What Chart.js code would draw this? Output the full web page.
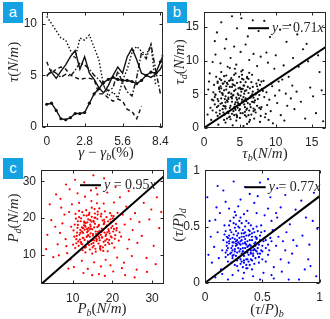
<!DOCTYPE html>
<html><head><meta charset="utf-8">
<script src="https://cdn.jsdelivr.net/npm/chart.js@4.4.0/dist/chart.umd.min.js"></script>
<style>
html,body{margin:0;padding:0;background:#fff;}
body{width:330px;height:319px;position:relative;overflow:hidden;}
.pane{position:absolute;}
.tag{position:absolute;width:20px;height:21px;background:#14a2e3;color:#fff;font:15px "Liberation Sans",Arial,sans-serif;text-align:center;line-height:20px;}
.ttl{position:absolute;font:italic 15px "Liberation Serif",serif;color:#262626;white-space:nowrap;transform:translate(-50%,-50%);line-height:1;}
.ttl.v{transform:translate(-50%,-50%) rotate(-90deg);}
.ttl sub{font-size:10px;vertical-align:-3px;line-height:0;}
.up{font-style:normal;}
</style></head>
<body>
<div class="pane" style="left:0;top:0"><canvas id="ca" width="176" height="160"></canvas></div>
<div class="pane" style="left:165px;top:0"><canvas id="cb" width="165" height="160"></canvas></div>
<div class="pane" style="left:0;top:158px"><canvas id="cc" width="168" height="161"></canvas></div>
<div class="pane" style="left:165px;top:158px"><canvas id="cd" width="165" height="161"></canvas></div>

<div class="tag" style="left:3px;top:2px">a</div>
<div class="tag" style="left:167px;top:2px">b</div>
<div class="tag" style="left:3px;top:158px">c</div>
<div class="tag" style="left:167px;top:158px">d</div>

<div class="ttl v" style="left:13px;top:62px">τ<span class="up">(</span>N<span class="up">/</span>m<span class="up">)</span></div>
<div class="ttl" style="left:106px;top:152px">γ <span class="up">−</span> γ<sub>b</sub><span class="up">(%)</span></div>
<div class="ttl v" style="left:179px;top:62px">τ<sub>d</sub><span class="up">(</span>N<span class="up">/</span>m<span class="up">)</span></div>
<div class="ttl" style="left:265px;top:153px">τ<sub>b</sub><span class="up">(</span>N<span class="up">/</span>m<span class="up">)</span></div>
<div class="ttl v" style="left:13px;top:218px">P<sub>d</sub><span class="up">(</span>N<span class="up">/</span>m<span class="up">)</span></div>
<div class="ttl" style="left:102px;top:308px">P<sub>b</sub><span class="up">(</span>N<span class="up">/</span>m<span class="up">)</span></div>
<div class="ttl v" style="left:178px;top:225px"><span class="up">(</span>τ<span class="up">/</span>P<span class="up">)</span><sub>d</sub></div>
<div class="ttl" style="left:267px;top:309px"><span class="up">(</span>τ<span class="up">/</span>P<span class="up">)</span><sub>b</sub></div>

<script>
// ---------- panel a : shear stress vs strain (five runs) ----------
const strain = [0,0.35,0.7,1.05,1.4,1.75,2.1,2.45,2.8,3.15,3.5,3.85,4.2,4.55,4.9,5.25,5.6,5.95,6.3,6.65,7.0,7.35,7.7,8.05,8.4,8.6];
const tauRunMarked = [2.2,2.3,1.6,0.8,0.7,0.9,1.3,1.3,1.4,2.3,3.2,3.7,4.3,4.6,4.8,4.6,4.5,4.5,4.4,4.2,4.5,5.0,5.3,5.2,6.3,6.9];
const tauRunDotted = [10.7,10.0,9.3,8.6,8.4,7.4,6.6,8.6,8.4,8.9,7.7,6.5,4.0,3.0,3.4,2.8,4.5,5.6,7.2,7.8,7.3,7.0,7.9,4.0,null,null];
const tauRunDashed = [6.3,5.2,5.6,5.8,5.6,5.0,4.8,4.6,4.7,4.7,4.6,3.2,3.2,2.8,2.5,2.7,2.5,1.7,1.5,0.8,2.0,null,null,null,null,null];
const tauRunSolid = [5.0,5.3,4.7,5.4,6.0,6.8,7.4,5.6,6.8,5.2,4.6,3.8,3.3,4.0,5.0,5.8,5.2,6.8,7.6,6.5,5.2,5.0,4.8,5.1,5.6,6.2];
const tauRunDashDot = [4.9,5.5,5.2,4.8,5.1,4.9,5.5,6.2,6.0,5.6,5.0,4.6,4.0,3.5,3.8,5.4,4.3,3.4,3.0,4.8,7.2,6.6,8.0,5.5,3.2,null];
const strainTicks = [0,2.8,5.6,8.4];
const tauTicks = [0,5,10];

// ---------- panel b : tau_d vs tau_b ----------
const tauB = [3.2,5.6,4.4,6.8,2.1,7.3,4.9,3.7,5.1,6.2,1.8,8.4,2.9,4.2,6.6,5.4,3.5,7.9,2.4,4.7,5.9,3.1,6.1,1.4,7.6,4.5,2.7,8.8,3.9,5.2,6.9,2.2,4.1,7.1,3.4,5.7,1.9,6.4,4.6,3.0,8.1,2.5,5.0,6.7,3.6,7.4,4.3,1.6,5.5,2.8,6.0,3.8,7.8,4.8,2.3,5.3,6.5,1.2,3.3,8.6,4.0,5.8,2.6,7.0,3.9,6.3,1.7,4.9,5.6,7.7,2.0,3.6,6.1,4.4,8.3,2.9,5.1,1.3,7.2,3.4,4.6,6.8,2.4,5.9,3.1,9.1,4.2,6.4,1.9,5.3,7.5,2.7,4.7,3.8,6.9,1.1,5.0,8.0,2.2,4.3,5.7,3.2,6.6,7.3,2.6,4.5,3.0,5.4,6.2,1.5,
9.5,10.2,11.4,9.8,10.7,8.9,12.1,9.3,11.8,10.5,12.6,9.0,11.1,10.0,12.3,8.7,11.6,9.6,12.9,10.9,2.3,3.7,5.1,1.6,4.5,6.3,2.9,7.4,5.8,3.3,1.2,4.2,6.9,0.8,7.9,0.6,0.9,1.0,0.7,0.5,2.0,4.0,6.0,7.8,3.0,5.5,8.5,9.9,10.4,11.2,
13.5,14.8,15.6,13.2,14.1,16.1,13.8,15.2,16.4,14.5,2.4,4.6,6.1,3.1,7.6,1.5,9.2,11.5,5.2,8.4,10.6,12.4,13.0,3.9,15.9,1.8,6.8,16.6,14.3,12.0,
3.5,4.8,2.6,5.9,4.1,6.7,3.0,5.3,2.2,7.0,4.4,3.7,5.6,1.9,6.3,4.9,2.8,5.0,3.3,7.5,4.6,2.4,6.0,3.9,5.2,1.5,4.3,6.5,3.1,5.7,
2.0,4.0,6.8,3.4,5.5,2.7,4.7,7.2,3.6,5.1,1.7,4.2,6.1,2.9,5.8,3.8,6.9,2.3,4.5,5.4,8.2,3.2,6.4,1.3,4.9,7.7,2.5,5.9,3.5,4.1,
6.6,2.1,5.0,3.9,7.4,4.6,2.8,5.6,3.0,6.2,1.6,4.4,8.7,3.7,5.3,2.6,6.7,4.0,5.7,3.3,7.1,2.2,4.8,6.0,3.6,5.1,1.9,4.3,6.5,2.9,
8.0,3.4,5.5,7.9,4.2,9.4,6.3,2.4,5.2,3.8];
const tauD = [4.1,6.3,2.7,3.9,5.8,5.2,7.6,3.3,4.8,1.9,3.1,4.6,6.9,5.5,6.8,2.2,1.6,2.8,4.4,3.8,5.6,7.8,4.3,6.4,7.1,1.1,2.3,3.4,6.1,8.4,2.5,7.3,4.9,4.1,5.2,3.1,1.8,5.9,6.7,2.9,5.8,3.7,1.5,7.9,8.9,3.3,3.5,4.9,7.2,1.2,2.9,4.6,6.4,5.9,6.2,3.9,4.7,2.6,6.5,2.1,7.1,4.4,5.1,1.4,2.1,8.2,7.6,2.6,5.1,4.9,4.0,3.0,6.1,8.1,7.0,2.0,6.8,5.3,2.3,4.3,4.2,5.4,8.3,1.7,5.7,4.2,1.9,3.5,6.7,7.9,5.7,3.3,5.1,7.4,4.5,4.2,3.4,3.1,2.6,6.3,2.4,1.4,2.0,6.6,6.6,4.5,3.8,5.8,7.3,3.5,
6.2,3.7,5.1,8.8,1.9,9.7,4.4,2.5,7.6,5.6,2.8,1.2,9.3,10.8,6.3,11.2,3.3,0.7,5.4,7.2,9.6,10.4,11.3,10.9,9.4,10.1,11.8,9.2,12.4,9.1,9.8,12.1,11.0,8.1,10.6,5.7,3.0,1.2,6.9,2.0,0.5,0.4,0.6,0.9,0.8,0.3,1.6,4.8,6.9,1.1,
3.9,6.0,2.2,9.1,1.4,8.3,11.7,4.7,5.6,9.9,15.7,14.8,13.6,13.2,14.4,12.9,13.5,12.8,16.3,15.9,14.6,10.4,13.9,16.6,10.8,14.2,16.0,1.0,12.5,15.3,
5.3,3.6,4.9,2.7,6.4,5.0,3.2,7.3,2.1,3.8,5.7,1.3,4.1,6.9,2.6,4.4,7.7,6.0,2.4,4.3,1.8,5.9,7.4,3.9,5.4,4.6,2.9,3.1,6.2,5.5,
3.3,4.8,6.1,2.2,4.6,6.6,3.0,5.0,1.7,5.8,2.3,7.9,3.7,4.3,6.8,5.1,2.9,3.6,2.0,8.6,5.5,6.7,1.2,4.1,3.4,3.0,5.2,4.0,7.0,2.5,
4.7,6.0,2.8,4.4,6.2,1.6,5.6,3.5,4.7,5.2,5.0,3.8,5.3,7.1,4.2,2.8,3.9,6.5,1.9,3.9,2.7,5.4,4.9,7.6,6.1,2.2,4.3,8.8,4.5,3.2,
6.9,4.5,6.3,1.8,3.1,6.6,0.9,7.1,5.8,4.6];
const tauTicksB = [0,5,10,15];

// ---------- panel c : P_d vs P_b ----------
const pB = [14.2,17.5,12.1,19.8,15.6,11.3,16.9,13.7,18.4,10.6,20.3,14.9,12.8,17.1,15.3,11.9,19.2,13.4,16.4,21.1,12.5,18.1,14.6,10.2,17.8,15.9,13.1,19.6,11.6,16.2,20.7,14.1,12.3,17.3,15.1,18.8,13.9,10.9,16.7,21.6,14.4,12.7,19.1,15.7,11.2,17.9,13.3,16.1,20.1,14.8,12.0,18.6,15.4,10.4,17.0,13.6,19.4,11.5,16.6,14.3,21.8,12.9,18.2,15.2,10.8,17.6,13.2,16.3,19.9,14.0,11.8,18.9,15.8,12.4,20.5,13.8,17.2,10.1,16.0,14.7,19.3,12.2,15.5,18.0,11.1,16.8,13.5,20.9,14.5,17.4,9.6,21.3,15.0,12.6,18.5,13.0,16.5,19.7,10.7,22.2,
8.2,7.4,9.1,8.6,23.1,24.2,22.6,23.8,9.4,12.3,15.4,18.3,21.2,11.6,14.7,17.8,20.4,13.1,16.2,9.8,7.9,6.8,25.1,24.6,22.9,10.3,13.8,17.1,19.5,8.4,6.2,5.6,26.3,25.7,23.5,11.2,15.9,18.7,21.9,7.1,24.9,26.8,8.9,12.7,16.6,20.2,14.6,22.4,6.5,27.4,
3.6,4.2,5.1,4.6,3.3,6.9,8.3,10.6,12.9,15.2,17.9,20.8,24.1,27.9,29.3,31.8,30.4,28.6,26.1,28.7,31.2,29.8,25.6,18.1,23.2,14.9,5.8,9.2,32.3,30.9,
15.0,13.2,17.8,11.7,16.5,19.0,14.4,12.4,18.3,15.7,13.8,16.9,10.9,20.0,14.9,12.1,17.4,15.3,19.5,13.5,16.2,11.4,18.7,14.2,15.9,12.8,17.1,20.6,13.1,16.6,
14.6,18.0,11.9,15.4,17.6,12.6,19.2,14.0,16.8,13.3,20.4,15.1,11.6,17.9,14.7,18.9,12.3,16.3,13.9,15.6,10.5,19.8,14.3,17.3,12.9,16.0,18.4,11.0,15.8,13.6,
21.0,14.8,16.7,12.0,18.6,15.2,13.0,17.0,19.6,14.1,11.3,16.4,13.7,18.2,15.5,12.5,20.2,14.5,17.7,16.1];
const pD = [16.8,19.3,13.4,14.7,21.2,18.1,12.2,15.1,17.6,11.8,20.5,10.3,20.7,15.4,18.9,15.9,12.9,22.1,16.2,17.2,11.2,21.8,13.8,16.6,13.5,14.4,17.9,18.8,20.2,19.7,15.3,12.6,16.3,17.1,15.6,10.9,19.6,13.1,22.6,13.8,18.2,14.5,16.4,11.6,17.3,18.5,12.1,14.1,19.9,20.3,19.1,14.2,17.4,14.9,11.3,16.1,21.3,12.4,18.1,14.9,16.1,18.7,12.6,13.2,19.8,16.7,10.6,20.9,13.1,17.3,14.1,19.1,16.3,21.6,11.9,13.6,21.1,12.7,15.0,19.0,15.8,12.9,22.4,16.0,16.0,13.9,20.6,18.4,15.8,14.8,17.6,21.4,12.0,17.2,20.2,14.0,17.8,17.3,21.1,14.9,
14.2,18.5,21.6,10.4,18.2,14.1,20.9,11.6,8.7,8.3,7.9,8.6,9.2,24.1,24.6,23.9,24.2,25.8,26.4,23.7,20.9,15.9,16.7,19.7,7.8,6.6,6.1,6.8,7.1,12.3,12.8,17.6,13.2,21.3,23.1,26.7,28.1,26.9,25.6,22.8,9.6,18.9,6.2,5.0,4.7,5.4,27.5,6.3,9.8,15.1,
15.4,23.7,9.3,19.4,11.5,25.2,29.1,30.4,29.7,31.6,30.8,28.4,27.3,24.1,19.6,17.2,12.4,9.1,5.9,5.3,25.6,22.3,3.8,4.2,4.4,4.4,26.4,27.8,21.6,7.4,
14.0,17.6,18.3,15.4,13.0,16.9,19.4,12.8,15.1,20.1,16.4,11.7,14.2,17.8,16.9,19.9,14.6,12.4,19.6,14.8,17.5,13.6,16.1,21.4,15.6,18.0,20.4,14.3,11.9,15.0,
17.1,18.9,16.7,13.9,12.0,15.9,14.0,20.8,16.5,18.6,17.0,15.2,21.9,19.5,12.9,13.3,17.4,21.7,15.3,18.4,18.2,20.6,11.4,16.2,19.0,13.7,15.5,15.1,10.8,17.0,
16.6,22.8,14.5,13.3,17.9,19.2,16.8,12.3,15.0,21.0,19.1,15.7,18.8,13.8,20.0,14.6,16.3,17.7,11.0,24.0];
const pTicks = [10,20,30];

// ---------- panel d : (tau/P)_d vs (tau/P)_b ----------
const ratioB = [0.32,0.45,0.21,0.38,0.27,0.51,0.34,0.18,0.42,0.29,0.36,0.24,0.48,0.31,0.55,0.19,0.40,0.26,0.35,0.47,0.22,0.39,0.28,0.53,0.33,0.16,0.44,0.30,0.41,0.25,0.37,0.49,0.20,0.34,0.57,0.28,0.43,0.23,0.38,0.31,0.46,0.17,0.35,0.52,0.27,0.40,0.21,0.33,0.44,0.29,0.37,0.25,0.50,0.19,0.42,0.32,0.36,0.24,0.47,0.30,0.39,0.55,0.22,0.34,0.45,0.27,0.41,0.18,0.31,0.50,0.26,0.38,0.43,0.23,0.35,0.48,0.29,0.33,0.20,0.40,0.46,0.28,0.36,0.53,0.24,0.32,0.42,0.17,0.39,0.30,0.25,0.44,0.34,0.21,0.49,0.37,0.28,0.41,0.35,0.27,
0.08,0.11,0.12,0.09,0.14,0.62,0.66,0.59,0.64,0.60,0.70,0.68,0.58,0.73,0.13,0.21,0.29,0.37,0.45,0.52,0.24,0.33,0.42,0.51,0.58,0.15,0.06,0.05,0.10,0.18,0.31,0.43,0.39,0.26,0.55,0.63,0.71,0.76,0.67,0.77,0.62,0.48,0.20,0.03,0.09,0.57,0.46,0.80,0.74,0.66,
0.02,0.16,0.35,0.48,0.63,0.79,0.85,0.90,0.94,0.87,0.97,0.82,0.91,0.84,0.70,0.25,0.11,0.55,0.95,0.73,0.98,0.88,0.04,0.60,0.92,
0.31,0.26,0.40,0.22,0.36,0.45,0.29,0.34,0.19,0.43,0.38,0.25,0.32,0.48,0.27,0.35,0.41,0.20,0.30,0.46,0.24,0.37,0.33,0.52,0.28,0.39,0.23,0.44,0.31,0.36,
0.18,0.42,0.26,0.34,0.50,0.29,0.38,0.21,0.33,0.47,0.27,0.40,0.35,0.24,0.43,0.30,0.56,0.19,0.37,0.32,0.45,0.25,0.39,0.28,0.34,0.49,0.22,0.41,0.36,0.30,
0.15,0.27,0.44,0.33,0.38,0.23,0.47,0.31,0.35,0.40,0.26,0.58,0.20,0.42,0.29,0.37,0.53,0.32,0.24,0.39];
const ratioD = [0.41,0.28,0.35,0.19,0.52,0.37,0.24,0.46,0.48,0.31,0.13,0.22,0.42,0.58,0.25,0.29,0.33,0.16,0.45,0.18,0.55,0.38,0.27,0.31,0.35,0.38,0.22,0.49,0.12,0.43,0.29,0.51,0.19,0.61,0.40,0.38,0.35,0.27,0.53,0.17,0.26,0.51,0.31,0.46,0.33,0.21,0.42,0.47,0.41,0.11,0.37,0.58,0.21,0.33,0.29,0.26,0.55,0.36,0.34,0.40,0.16,0.34,0.47,0.20,0.50,0.24,0.44,0.23,0.34,0.28,0.49,0.25,0.17,0.31,0.39,0.38,0.44,0.14,0.40,0.51,0.31,0.20,0.42,0.19,0.29,0.53,0.24,0.43,0.46,0.28,0.36,0.36,0.09,0.51,0.45,0.21,0.42,0.38,0.27,0.60,
0.32,0.45,0.22,0.56,0.12,0.33,0.21,0.47,0.41,0.14,0.29,0.37,0.55,0.18,0.62,0.66,0.68,0.64,0.62,0.60,0.07,0.04,0.06,0.09,0.07,0.08,0.18,0.41,0.67,0.72,0.74,0.71,0.79,0.63,0.66,0.58,0.45,0.26,0.10,0.38,0.62,0.03,0.03,0.25,0.05,0.76,0.77,0.33,0.52,0.67,
0.76,0.82,0.85,0.89,0.84,0.65,0.42,0.21,0.55,0.12,0.06,0.03,0.34,0.73,0.78,0.90,0.86,0.92,0.80,0.03,0.48,0.58,0.55,0.04,0.15,
0.30,0.39,0.27,0.26,0.21,0.39,0.36,0.44,0.41,0.30,0.33,0.25,0.19,0.26,0.46,0.36,0.41,0.31,0.23,0.46,0.40,0.32,0.28,0.40,0.34,0.43,0.18,0.33,0.37,0.16,
0.27,0.26,0.30,0.41,0.33,0.22,0.47,0.37,0.31,0.23,0.37,0.29,0.50,0.24,0.45,0.35,0.29,0.36,0.27,0.44,0.40,0.53,0.34,0.15,0.18,0.29,0.39,0.20,0.34,0.55,
0.29,0.35,0.29,0.28,0.42,0.45,0.23,0.21,0.35,0.26,0.28,0.37,0.25,0.32,0.50,0.13,0.38,0.38,0.33,0.30];
const ratioTicks = [0,0.5,1];

// fitted slopes y = k x shown in panels b, c, d
const fitSlopes = [0.71, 0.95, 0.77];

// -------------------------------------------------------------
const INK = '#262626';
const TICK_FONT = {family:'"Liberation Sans", Arial, sans-serif', size:12};

const framePlugin = {
  id:'frame',
  afterDraw(chart){
    const {ctx, chartArea:a} = chart;
    const xs = chart.scales.x, ys = chart.scales.y;
    const L=Math.round(a.left)+0.5, R=Math.round(a.right)-0.5, T=Math.round(a.top)+0.5, B=Math.round(a.bottom)-0.5;
    ctx.save();
    ctx.strokeStyle = INK; ctx.lineWidth = 1;
    ctx.beginPath();
    xs.ticks.forEach(t=>{
      const p = Math.round(xs.getPixelForValue(t.value))+0.5;
      ctx.moveTo(p,B); ctx.lineTo(p,B-3);
      ctx.moveTo(p,T); ctx.lineTo(p,T+3);
    });
    ys.ticks.forEach(t=>{
      const p = Math.round(ys.getPixelForValue(t.value))+0.5;
      ctx.moveTo(L,p); ctx.lineTo(L+3,p);
      ctx.moveTo(R,p); ctx.lineTo(R-3,p);
    });
    ctx.stroke();
    ctx.strokeRect(L,T,R-L,B-T);
    const lg = chart.options.plugins.frame && chart.options.plugins.frame.legend;
    if(lg){
      const y0 = a.top + lg.dy;
      const x0 = a.right - lg.dx;
      ctx.lineWidth = 2; ctx.strokeStyle = '#000';
      ctx.beginPath(); ctx.moveTo(x0,y0); ctx.lineTo(x0+21,y0); ctx.stroke();
      ctx.fillStyle = INK; ctx.textBaseline='middle';
      let x = x0+24;
      const parts = [['italic','y'],['normal',' = '+lg.k.toFixed(2)],['italic','x']];
      parts.forEach(([st,txt])=>{
        ctx.font = st+' 14px "Liberation Serif", serif';
        ctx.fillText(txt,x,y0);
        x += ctx.measureText(txt).width;
      });
    }
    ctx.restore();
  }
};

function axis(min,max,ticks,size,isX,pad){
  const o = {
    type:'linear', min, max,
    grid:{display:false, drawTicks:false},
    border:{display:false},
    ticks:{font:TICK_FONT, color:INK, padding:pad, autoSkip:false, maxRotation:0, callback:v=>String(v)},
    afterBuildTicks:s=>{ s.ticks = ticks.map(v=>({value:v})); }
  };
  if(isX) o.afterFit = s=>{ s.height = size; };
  else o.afterFit = s=>{ s.width = size; };
  return o;
}

function baseOpts(padding, xAx, yAx, legend){
  return {
    responsive:false, animation:false, devicePixelRatio:1, events:[],
    layout:{padding},
    plugins:{legend:{display:false}, tooltip:{enabled:false}, frame:{legend}},
    scales:{x:xAx, y:yAx}
  };
}

// panel a
const runStyles = [
  {data:tauRunDotted, dash:[1.5,2], pts:0},
  {data:tauRunDashed, dash:[4,3], pts:0},
  {data:tauRunSolid, dash:[], pts:0},
  {data:tauRunDashDot, dash:[5,2,1.5,2], pts:0},
  {data:tauRunMarked, dash:[], pts:1.6}
];
new Chart(document.getElementById('ca'), {
  type:'line',
  data:{datasets: runStyles.map(r=>({
    data: strain.map((s,i)=>({x:s, y:r.data[i]})),
    borderColor:'#111', borderWidth:1.4, borderDash:r.dash,
    pointRadius:r.pts, pointBackgroundColor:'#111', pointBorderWidth:0,
    spanGaps:false, tension:0, fill:false
  }))},
  options: baseOpts({top:5,right:10,left:0,bottom:0},
    axis(-0.35,8.6,strainTicks,33,true,7),
    axis(0,11.1,tauTicks,42,false,5), null),
  plugins:[framePlugin]
});

function scatterPanel(id, xs, ys, color, k, xmin, xmax, ymin, ymax, xt, yt, pad, xH, yW, lg){
  return new Chart(document.getElementById(id), {
    data:{datasets:[
      {type:'scatter', data: xs.map((v,i)=>({x:v, y:ys[i]})), pointRadius:1.1, pointBackgroundColor:color, pointBorderWidth:0, order:2},
      {type:'line', data:[{x:xmin,y:k*xmin},{x:xmax,y:k*xmax}], borderColor:'#000', borderWidth:2, pointRadius:0, order:1}
    ]},
    options: baseOpts(pad, axis(xmin,xmax,xt,xH,true,7), axis(ymin,ymax,yt,yW,false,5), Object.assign({k},lg)),
    plugins:[framePlugin]
  });
}

scatterPanel('cb', tauB, tauD, '#111', fitSlopes[0], 0, 17, 0, 17.2, tauTicksB, tauTicksB,
  {top:5,right:2,left:0,bottom:0}, 32, 39, {dx:78, dy:16});
scatterPanel('cc', pB, pD, '#ff0000', fitSlopes[1], 2, 33, 2, 33, pTicks, pTicks,
  {top:3,right:4,left:0,bottom:0}, 35, 41, {dx:84, dy:15});
scatterPanel('cd', ratioB, ratioD, '#0000ff', fitSlopes[2], 0, 1, 0, 1, ratioTicks, ratioTicks,
  {top:3,right:2,left:0,bottom:0}, 36, 40, {dx:75, dy:17});
</script>
</body></html>
